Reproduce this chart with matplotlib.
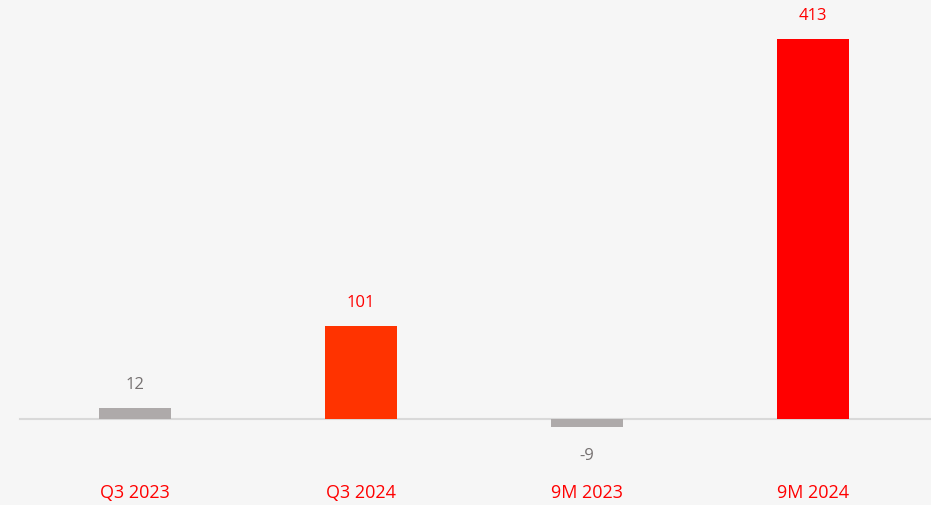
import matplotlib.pyplot as plt
import numpy as np

# chart data
categories = ['Q3 2023', 'Q3 2024', '9M 2023', '9M 2024']
values = [12, 101, -9, 413]
bar_colors = ['#aeaaaa', '#ff3300', '#aeaaaa', '#ff0000']
label_colors = ['#767171', '#ff0000', '#767171', '#ff0000']

plt.rcParams['font.family'] = ['Open Sans', 'DejaVu Sans']

fig = plt.figure(figsize=(9.31, 5.05), dpi=100)
fig.patch.set_facecolor('#f6f6f6')
ax = fig.add_axes([0, 0, 1, 1])
ax.set_facecolor('#f6f6f6')

x = np.arange(len(categories))
ax.bar(x, values, width=0.315, color=bar_colors, zorder=3)

# zero line
ax.axhline(0, xmin=0.022, xmax=1, color='#d9d9d9', lw=1.5, zorder=2)

# value labels
for xi, v, c in zip(x, values, label_colors):
    if v >= 0:
        ax.annotate(str(v), (xi, v), xytext=(0, 11), textcoords='offset points',
                    ha='center', va='bottom', fontsize=12, color=c)
    else:
        ax.annotate(str(v), (xi, v), xytext=(0, -15), textcoords='offset points',
                    ha='center', va='top', fontsize=12, color=c)

# category labels along the bottom
for xi, name in zip(x, categories):
    ax.text(xi, -80.5, name, ha='center', va='center', fontsize=13, color='#ff0000')

ax.set_xlim(-0.597, 3.522)
ax.set_ylim(-93.5, 455.4)
ax.axis('off')

plt.savefig('out.png', dpi=100, facecolor=fig.get_facecolor())
